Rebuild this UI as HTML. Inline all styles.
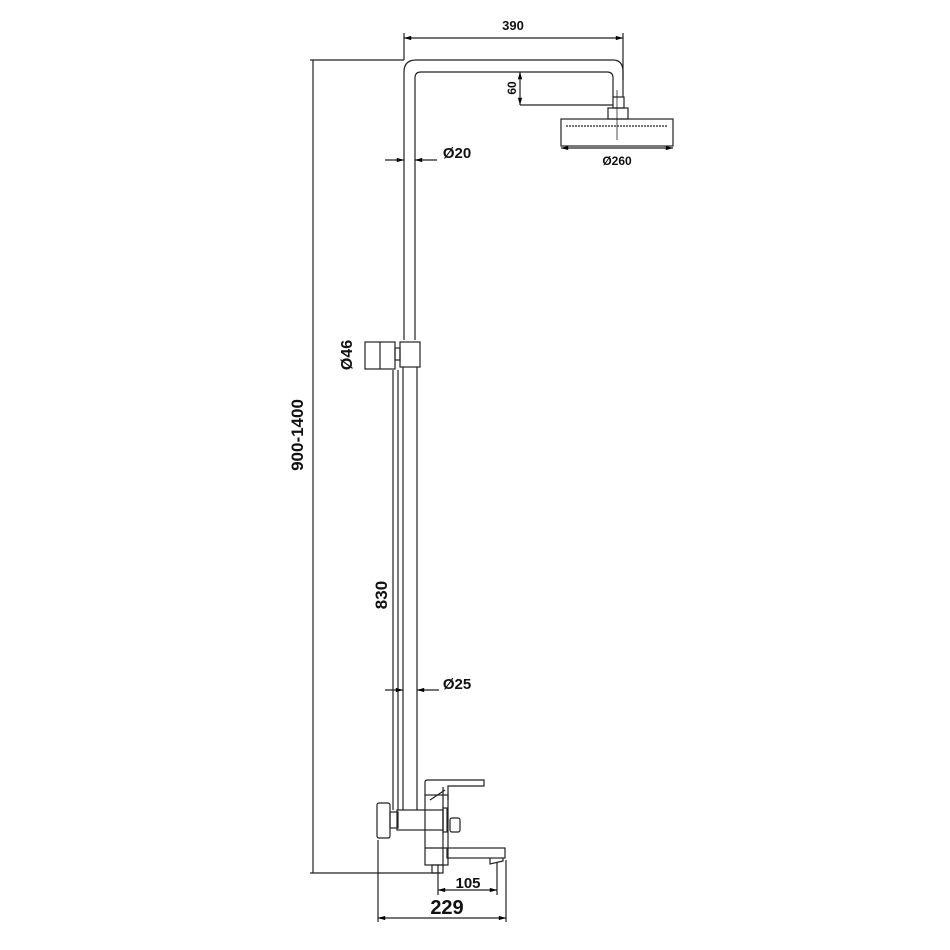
<!DOCTYPE html>
<html><head><style>body{margin:0;background:#fff}svg{display:block}</style></head>
<body>
<svg width="950" height="950" viewBox="0 0 950 950" xmlns="http://www.w3.org/2000/svg" font-family="Liberation Sans, sans-serif" font-weight="bold">
<defs>
<marker id="a" viewBox="0 0 10 10" refX="10" refY="5" markerWidth="8" markerHeight="6" orient="auto-start-reverse"><path d="M0,2 L10,5 L0,8z" fill="#000"/></marker>
</defs>
<g stroke="#222" stroke-width="1.2" fill="none">
<!-- outer dim -->
<line x1="310" y1="60" x2="404" y2="60"/>
<line x1="310" y1="873" x2="440" y2="873"/>
<line x1="313" y1="60" x2="313" y2="873"/>
<!-- top dim 390 -->
<line x1="404" y1="33" x2="404" y2="60"/>
<line x1="623" y1="33" x2="623" y2="80"/>
<line x1="404" y1="38" x2="623" y2="38" marker-start="url(#a)" marker-end="url(#a)"/>
<!-- arm -->
<path d="M404,340 L404,72 Q404,60 416,60 L613,60 Q623,60 623,72 L623,97"/>
<path d="M415,340 L415,78 Q415,72 421,72 L607,72 Q613,72 613,78 L613,97"/>
<rect x="613" y="97" width="11" height="11"/>
<rect x="608" y="108" width="20" height="11"/>
<rect x="561" y="119" width="112" height="27"/>
<line x1="566" y1="126" x2="668" y2="126" stroke-dasharray="2 1"/>
<line x1="617" y1="90" x2="617" y2="140" stroke-width="0.8"/>
<line x1="561" y1="148" x2="673" y2="148" marker-start="url(#a)" marker-end="url(#a)"/>
<!-- 60 -->
<line x1="520" y1="72" x2="520" y2="105" marker-start="url(#a)" marker-end="url(#a)"/>
<line x1="520" y1="105" x2="613" y2="105"/>
<!-- Ø20 -->
<line x1="385" y1="160" x2="404" y2="160" marker-end="url(#a)"/>
<line x1="437" y1="160" x2="415" y2="160" marker-end="url(#a)"/>
<!-- slider -->
<rect x="400" y="342" width="20" height="25"/>
<rect x="395" y="348" width="5" height="12"/>
<rect x="365" y="342" width="30" height="27"/>
<line x1="380" y1="342" x2="380" y2="369"/>
<!-- lower pipes -->
<line x1="403" y1="367" x2="403" y2="810"/>
<line x1="417" y1="367" x2="417" y2="810"/>
<line x1="393" y1="370" x2="393" y2="810"/>
<line x1="398" y1="370" x2="398" y2="810"/>
<!-- Ø25 -->
<line x1="385" y1="690" x2="403" y2="690" marker-end="url(#a)"/>
<line x1="439" y1="690" x2="417" y2="690" marker-end="url(#a)"/>
<!-- mixer -->
<path d="M425,795 L425,782 Q425,780 428,780 L484,780 L484,786 L448,786 L448,800"/>
<path d="M430,800 L445,790"/>
<rect x="425" y="795" width="23" height="70"/>
<line x1="443" y1="787" x2="443" y2="865"/>
<rect x="397" y="810" width="46" height="20"/>
<rect x="443" y="808" width="4" height="24"/>
<rect x="377" y="803" width="13" height="35" rx="2"/>
<rect x="390" y="812" width="8" height="16"/>
<rect x="450" y="818" width="10" height="14" rx="2"/>
<line x1="425" y1="848" x2="447" y2="848"/>
<rect x="447" y="848" width="58" height="10"/>
<path d="M490,858 L490,864 L503,861 L503,858"/>
<rect x="432" y="865" width="11" height="8"/>
<line x1="438" y1="865" x2="438" y2="895"/>
<line x1="497" y1="862" x2="497" y2="895"/>
<line x1="378" y1="840" x2="378" y2="922"/>
<line x1="506" y1="860" x2="506" y2="922"/>
<line x1="438" y1="890" x2="497" y2="890" marker-start="url(#a)" marker-end="url(#a)"/>
<line x1="378" y1="918" x2="506" y2="918" marker-start="url(#a)" marker-end="url(#a)"/>
</g>
<g fill="#111" text-anchor="middle">
<text x="513" y="30" font-size="13">390</text>
<text x="617" y="165" font-size="12">Ø260</text>
<text x="457" y="158" font-size="15">Ø20</text>
<text x="457" y="689" font-size="15">Ø25</text>
<text x="468" y="888" font-size="15">105</text>
<text x="447" y="914" font-size="20">229</text>
<text transform="translate(516,88) rotate(-90)" font-size="12">60</text>
<text transform="translate(352,355) rotate(-90)" font-size="16">Ø46</text>
<text transform="translate(303,435) rotate(-90)" font-size="17">900-1400</text>
<text transform="translate(387,595) rotate(-90)" font-size="17">830</text>
</g>
</svg>
</body></html>
